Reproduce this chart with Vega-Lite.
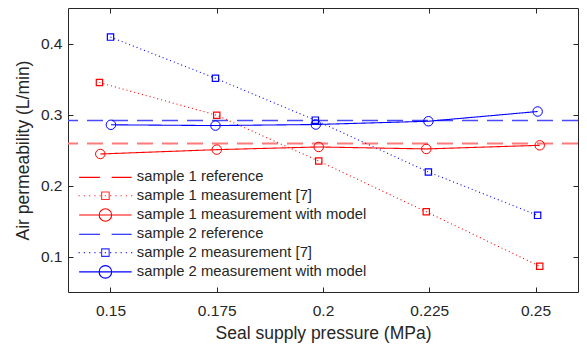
{
  "$schema": "https://vega.github.io/schema/vega-lite/v6.json",
  "width": 510,
  "height": 284,
  "autosize": {"type": "none"},
  "padding": {"left": 68, "top": 8, "right": 9, "bottom": 60},
  "background": "white",
  "config": {
    "view": {"stroke": "#262626", "strokeWidth": 1},
    "font": "Liberation Sans",
    "axis": {"grid": false, "domain": false, "tickColor": "#262626", "tickSize": -5, "tickWidth": 1,
             "labelColor": "#262626", "titleColor": "#262626", "labelFont": "Liberation Sans", "titleFont": "Liberation Sans",
             "labelFontSize": 15.5, "titleFontSize": 17.5, "titleFontWeight": "normal"},
    "legend": {"labelFont": "Liberation Sans", "labelFontSize": 14.8, "labelColor": "#262626", "padding": 0, "labelLimit": 0}
  },
  "datasets": {
    "pts": [
      {"series": "sample 1 measurement [7]", "x": 0.1474, "y": 0.345},
      {"series": "sample 1 measurement [7]", "x": 0.175, "y": 0.299},
      {"series": "sample 1 measurement [7]", "x": 0.199, "y": 0.2345},
      {"series": "sample 1 measurement [7]", "x": 0.2243, "y": 0.163},
      {"series": "sample 1 measurement [7]", "x": 0.251, "y": 0.0862},
      {"series": "sample 2 measurement [7]", "x": 0.15, "y": 0.409},
      {"series": "sample 2 measurement [7]", "x": 0.1747, "y": 0.351},
      {"series": "sample 2 measurement [7]", "x": 0.1982, "y": 0.292},
      {"series": "sample 2 measurement [7]", "x": 0.2248, "y": 0.219},
      {"series": "sample 2 measurement [7]", "x": 0.2505, "y": 0.158},
      {"series": "sample 1 measurement with model", "x": 0.1476, "y": 0.2444},
      {"series": "sample 1 measurement with model", "x": 0.175, "y": 0.2505},
      {"series": "sample 1 measurement with model", "x": 0.199, "y": 0.2543},
      {"series": "sample 1 measurement with model", "x": 0.2243, "y": 0.2515},
      {"series": "sample 1 measurement with model", "x": 0.251, "y": 0.2566},
      {"series": "sample 2 measurement with model", "x": 0.1501, "y": 0.2855},
      {"series": "sample 2 measurement with model", "x": 0.1747, "y": 0.2844},
      {"series": "sample 2 measurement with model", "x": 0.1983, "y": 0.2859},
      {"series": "sample 2 measurement with model", "x": 0.2248, "y": 0.2905},
      {"series": "sample 2 measurement with model", "x": 0.2505, "y": 0.3042}
    ],
    "refs": [
      {"series": "sample 1 reference", "y": 0.2593},
      {"series": "sample 2 reference", "y": 0.2915}
    ],
    "names": [
      {"series": "sample 1 reference"},
      {"series": "sample 1 measurement [7]"},
      {"series": "sample 1 measurement with model"},
      {"series": "sample 2 reference"},
      {"series": "sample 2 measurement [7]"},
      {"series": "sample 2 measurement with model"}
    ]
  },
  "resolve": {
    "scale": {"color": "independent", "shape": "independent", "strokeDash": "independent", "strokeWidth": "independent"},
    "axis": {"x": "independent", "y": "independent"}
  },
  "layer": [
    {
      "data": {"name": "refs"},
      "mark": {"type": "rule", "strokeDash": [16, 9]},
      "encoding": {
        "y": {"field": "y", "type": "quantitative", "scale": {"domain": [0.05, 0.45]},
              "axis": {"orient": "right", "values": [0.1, 0.2, 0.3, 0.4], "labels": false, "title": null}},
        "color": {"field": "series", "type": "nominal", "legend": null,
                  "scale": {"domain": ["sample 1 reference", "sample 2 reference"], "range": ["#ff7b7b", "#4a4aff"]}},
        "strokeWidth": {"field": "series", "type": "nominal", "legend": null,
                  "scale": {"domain": ["sample 1 reference", "sample 2 reference"], "range": [2, 1.4]}}
      }
    },
    {
      "data": {"name": "pts"},
      "mark": {"type": "line", "strokeWidth": 1.1},
      "encoding": {
        "x": {"field": "x", "type": "quantitative", "scale": {"domain": [0.14, 0.26]},
              "axis": {"orient": "bottom", "values": [0.15, 0.175, 0.2, 0.225, 0.25], "format": ".3~g",
                       "title": "Seal supply pressure (MPa)", "labelPadding": 16.5, "titlePadding": 5}},
        "y": {"field": "y", "type": "quantitative", "scale": {"domain": [0.05, 0.45]},
              "axis": {"orient": "left", "values": [0.1, 0.2, 0.3, 0.4], "format": ".2~g",
                       "title": "Air permeability (L/min)", "labelPadding": 11, "titlePadding": 8}},
        "color": {"field": "series", "type": "nominal", "legend": null,
                  "scale": {"domain": ["sample 1 measurement [7]", "sample 1 measurement with model", "sample 2 measurement [7]", "sample 2 measurement with model"],
                            "range": ["#ff0000", "#ff0000", "#0000ff", "#0000ff"]}},
        "strokeDash": {"field": "series", "type": "nominal", "legend": null,
                  "scale": {"domain": ["sample 1 measurement [7]", "sample 1 measurement with model", "sample 2 measurement [7]", "sample 2 measurement with model"],
                            "range": [[1, 3], [1, 0], [1, 3], [1, 0]]}}
      }
    },
    {
      "data": {"name": "pts"},
      "transform": [{"filter": {"field": "series", "oneOf": ["sample 1 measurement [7]", "sample 2 measurement [7]"]}}],
      "mark": {"type": "point", "shape": "square", "filled": false, "size": 40, "strokeWidth": 1.2, "opacity": 1},
      "encoding": {
        "x": {"field": "x", "type": "quantitative", "scale": {"domain": [0.14, 0.26]},
              "axis": {"orient": "top", "values": [0.15, 0.175, 0.2, 0.225, 0.25], "labels": false, "title": null}},
        "y": {"field": "y", "type": "quantitative", "axis": null},
        "color": {"field": "series", "type": "nominal", "legend": null,
                  "scale": {"domain": ["sample 1 measurement [7]", "sample 2 measurement [7]"], "range": ["#ff0000", "#0000ff"]}}
      }
    },
    {
      "data": {"name": "pts"},
      "transform": [{"filter": {"field": "series", "oneOf": ["sample 1 measurement with model", "sample 2 measurement with model"]}}],
      "mark": {"type": "point", "shape": "circle", "filled": false, "size": 90, "strokeWidth": 1, "opacity": 1},
      "encoding": {
        "x": {"field": "x", "type": "quantitative", "axis": null},
        "y": {"field": "y", "type": "quantitative", "axis": null},
        "color": {"field": "series", "type": "nominal", "legend": null,
                  "scale": {"domain": ["sample 1 measurement with model", "sample 2 measurement with model"], "range": ["#ff0000", "#0000ff"]}}
      }
    },
    {
      "data": {"name": "names"},
      "transform": [{"filter": {"field": "series", "equal": "none"}}],
      "mark": {"type": "point", "filled": false, "size": 64, "strokeWidth": 1.1, "opacity": 1},
      "encoding": {
        "color": {"field": "series", "type": "nominal",
                  "scale": {"domain": ["sample 1 reference", "sample 1 measurement [7]", "sample 1 measurement with model", "sample 2 reference", "sample 2 measurement [7]", "sample 2 measurement with model"],
                            "range": ["#ff0000", "#ff3030", "#ff0000", "#0000ff", "#3030ff", "#0000ff"]},
                  "legend": {"title": null, "orient": "none", "legendX": 30, "legendY": 162, "labelOffset": 24, "rowPadding": 2.3, "symbolStrokeWidth": 1.1, "labelLimit": 0}},
        "shape": {"field": "series", "type": "nominal",
                  "scale": {"domain": ["sample 1 reference", "sample 1 measurement [7]", "sample 1 measurement with model", "sample 2 reference", "sample 2 measurement [7]", "sample 2 measurement with model"],
                            "range": [
                              "M-5.25,0H-1.1M1.25,0H5.25",
                              "M-5.375,0h0.25M-4.325,0h0.25M-3.275,0h0.25M-2.225,0h0.25M-1.175,0h0.25M-0.125,0h0.25M0.925,0h0.25M1.975,0h0.25M3.025,0h0.25M4.075,0h0.25M5.125,0h0.25M-0.75,-0.75H0.75V0.75H-0.75Z",
                              "M-5.25,0H5.25M1.25,0A1.25,1.25,0,1,1,-1.25,0A1.25,1.25,0,1,1,1.25,0",
                              "M-5.25,0H-1.1M1.25,0H5.25",
                              "M-5.375,0h0.25M-4.325,0h0.25M-3.275,0h0.25M-2.225,0h0.25M-1.175,0h0.25M-0.125,0h0.25M0.925,0h0.25M1.975,0h0.25M3.025,0h0.25M4.075,0h0.25M5.125,0h0.25M-0.75,-0.75H0.75V0.75H-0.75Z",
                              "M-5.25,0H5.25M1.25,0A1.25,1.25,0,1,1,-1.25,0A1.25,1.25,0,1,1,1.25,0"
                            ]},
                  "legend": {"title": null, "orient": "none", "legendX": 30, "legendY": 162, "labelOffset": 24, "rowPadding": 2.3, "symbolStrokeWidth": 1.1, "labelLimit": 0}}
      }
    }
  ]
}
